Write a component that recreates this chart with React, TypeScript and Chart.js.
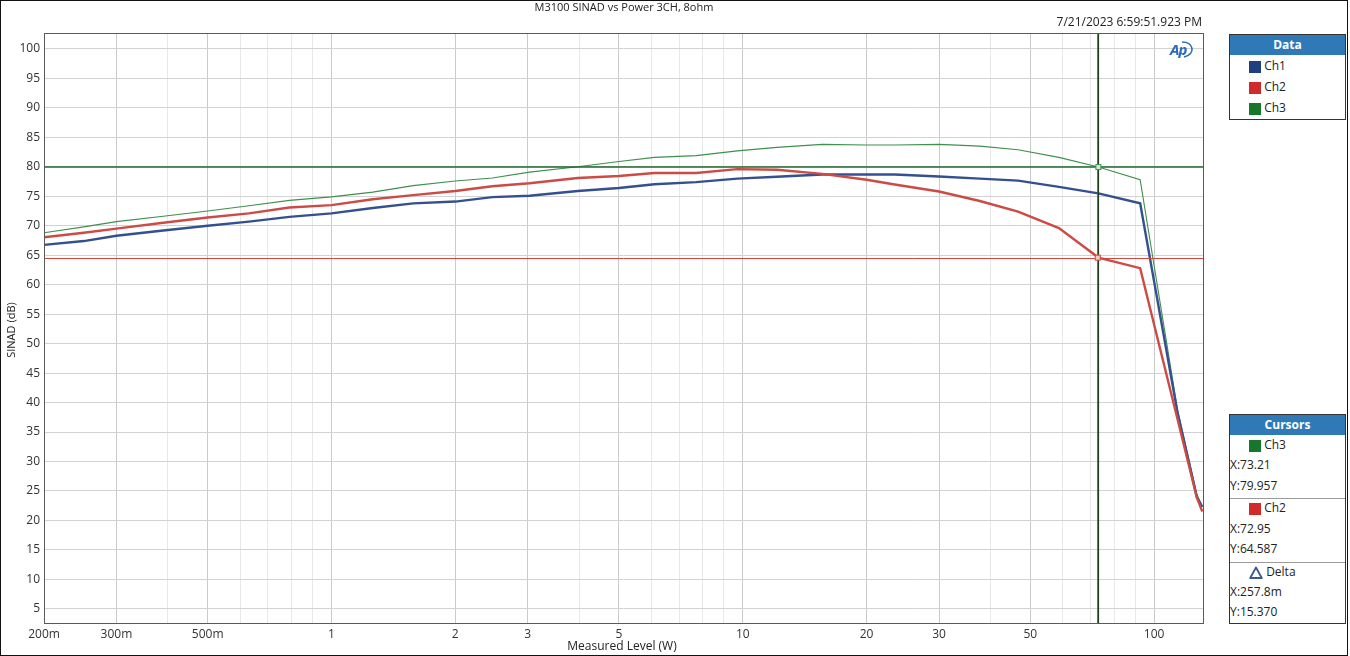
import React, { useEffect, useRef } from "react";
import { Chart, registerables } from "chart.js";

Chart.register(...registerables);

// ---- data ----
const POWER_W = [
  0.2, 0.25, 0.3, 0.39, 0.5, 0.63, 0.79, 1.0, 1.26, 1.58, 2.0, 2.46, 3.03, 3.97, 5.0, 6.1, 7.7, 9.7,
  12.1, 15.6, 20, 23.4, 30, 37.7, 46.7, 58.7, 73.2, 92.5, 114, 127, 131,
];
const CH1_SINAD = [
  66.75, 67.4, 68.3, 69.2, 70.0, 70.7, 71.5, 72.1, 73.0, 73.8, 74.1, 74.85, 75.1, 75.9, 76.4, 77.05, 77.4,
  78.0, 78.3, 78.7, 78.7, 78.7, 78.35, 78.0, 77.65, 76.6, 75.5, 73.8, 38.3, 24.0, 22.3,
];
const CH2_SINAD = [
  68.05, 68.8, 69.5, 70.5, 71.4, 72.1, 73.1, 73.5, 74.5, 75.2, 75.9, 76.7, 77.2, 78.1, 78.45, 78.95, 78.95,
  79.6, 79.5, 78.8, 77.8, 77.0, 75.8, 74.2, 72.4, 69.6, 64.6, 62.8, 37.2, 23.9, 21.5,
];
const CH3_SINAD = [
  68.8, 69.8, 70.7, 71.6, 72.5, 73.4, 74.3, 74.9, 75.7, 76.8, 77.6, 78.1, 79.1, 80.0, 80.9, 81.6, 81.9,
  82.7, 83.3, 83.8, 83.7, 83.7, 83.8, 83.5, 82.9, 81.6, 79.96, 77.8, 38.8, 24.5, 22.3,
];

const Y_TICKS = [5, 10, 15, 20, 25, 30, 35, 40, 45, 50, 55, 60, 65, 70, 75, 80, 85, 90, 95, 100];
const X_MAJOR = [0.2, 0.3, 0.5, 1, 2, 3, 5, 10, 20, 30, 50, 100];
const X_MAJOR_LABELS = ["200m", "300m", "500m", "1", "2", "3", "5", "10", "20", "30", "50", "100"];
const X_MINOR = [0.4, 0.6, 0.7, 0.8, 0.9, 4, 6, 7, 8, 9, 40, 60, 70, 80, 90];

const CURSOR_CH3 = { x: 73.21, y: 79.957 };
const CURSOR_CH2 = { x: 72.95, y: 64.587 };
const CURSOR_DELTA = { x: "257.8m", y: "15.370" };

const X_MIN = 0.2;
const X_MAX = 131.5;
const Y_MIN = 2.6;
const Y_MAX = 102.7;

const COL_CH1 = "#34508f";
const COL_CH2 = "#cc4b45";
const COL_CH3 = "#3f8f4f";
const SQ_CH1 = "#1f3f7e";
const SQ_CH2 = "#d02b2b";
const SQ_CH3 = "#17782b";

const FONT = "'Segoe UI', 'Open Sans', 'Noto Sans', sans-serif";

const isMinor = (v: number) => X_MINOR.some((m) => Math.abs(m - v) < 1e-9);
const majorLabel = (v: number) => {
  const i = X_MAJOR.findIndex((m) => Math.abs(m - v) < 1e-9);
  return i >= 0 ? X_MAJOR_LABELS[i] : "";
};

const overlayPlugin = {
  id: "overlay",
  afterDatasetsDraw(chart: any) {
    const { ctx, chartArea, scales } = chart;
    const xs = scales.x;
    const ys = scales.y;
    ctx.save();
    // horizontal cursor lines
    const yG = ys.getPixelForValue(CURSOR_CH3.y);
    const yR = ys.getPixelForValue(CURSOR_CH2.y);
    ctx.lineWidth = 1;
    ctx.strokeStyle = "#d0453e";
    ctx.beginPath();
    ctx.moveTo(chartArea.left, Math.round(yR) + 0.5);
    ctx.lineTo(chartArea.right, Math.round(yR) + 0.5);
    ctx.stroke();
    ctx.lineWidth = 1.5;
    ctx.strokeStyle = "#1d6a2c";
    ctx.beginPath();
    ctx.moveTo(chartArea.left, yG);
    ctx.lineTo(chartArea.right, yG);
    ctx.stroke();
    // vertical cursor lines
    const xR = xs.getPixelForValue(CURSOR_CH2.x);
    const xG = xs.getPixelForValue(CURSOR_CH3.x);
    ctx.lineWidth = 1;
    ctx.strokeStyle = "#b8443c";
    ctx.beginPath();
    ctx.moveTo(xR, chartArea.top);
    ctx.lineTo(xR, chartArea.bottom);
    ctx.stroke();
    ctx.lineWidth = 1.4;
    ctx.strokeStyle = "#213d1c";
    ctx.beginPath();
    ctx.moveTo(xG, chartArea.top);
    ctx.lineTo(xG, chartArea.bottom);
    ctx.stroke();
    // cursor markers
    ctx.lineWidth = 1;
    ctx.fillStyle = "#cfe8cf";
    ctx.strokeStyle = "#3f8f4f";
    ctx.fillRect(xG - 2.5, yG - 2.5, 5, 5);
    ctx.strokeRect(xG - 2.5, yG - 2.5, 5, 5);
    ctx.fillStyle = "#f1c9c6";
    ctx.strokeStyle = "#cc4b45";
    ctx.fillRect(xR - 2.5, yR - 2.5, 5, 5);
    ctx.strokeRect(xR - 2.5, yR - 2.5, 5, 5);
    // plot frame
    ctx.lineWidth = 1;
    ctx.strokeStyle = "#5a5a5a";
    ctx.strokeRect(
      Math.round(chartArea.left) + 0.5,
      Math.round(chartArea.top) + 0.5,
      Math.round(chartArea.right - chartArea.left),
      Math.round(chartArea.bottom - chartArea.top)
    );
    ctx.restore();
  },
};

function ChartCanvas() {
  const ref = useRef<HTMLCanvasElement | null>(null);
  useEffect(() => {
    if (!ref.current) return;
    Chart.defaults.font.family = FONT;
    const mk = (ys: number[]) => POWER_W.map((x, i) => ({ x, y: ys[i] }));
    const chart = new Chart(ref.current, {
      type: "line",
      data: {
        datasets: [
          {
            label: "Ch2",
            data: mk(CH2_SINAD),
            borderColor: COL_CH2,
            borderWidth: 2.4,
            pointRadius: 0,
            tension: 0,
          },
          {
            label: "Ch1",
            data: mk(CH1_SINAD),
            borderColor: COL_CH1,
            borderWidth: 2.4,
            pointRadius: 0,
            tension: 0,
          },
          {
            label: "Ch3",
            data: mk(CH3_SINAD),
            borderColor: COL_CH3,
            borderWidth: 1.1,
            pointRadius: 0,
            tension: 0,
          },
        ],
      },
      options: {
        animation: false,
        responsive: false,
        devicePixelRatio: 1,
        layout: { padding: { left: 0, top: 33, right: 147, bottom: 0 } },
        plugins: { legend: { display: false }, tooltip: { enabled: false } },
        scales: {
          x: {
            type: "logarithmic",
            min: X_MIN,
            max: X_MAX,
            afterBuildTicks: (s: any) => {
              s.ticks = [...X_MAJOR, ...X_MINOR].sort((a, b) => a - b).map((v) => ({ value: v }));
            },
            afterFit: (s: any) => {
              s.height = 33;
            },
            border: { display: false },
            grid: {
              drawTicks: false,
              lineWidth: 1,
              color: (c: any) => (c.tick && isMinor(c.tick.value) ? "#e8e8e8" : "#cbcbcb"),
            },
            ticks: {
              autoSkip: false,
              maxRotation: 0,
              padding: 4,
              color: "#333",
              font: { size: 12 },
              callback: (v: any) => majorLabel(Number(v)),
            },
          },
          y: {
            type: "linear",
            min: Y_MIN,
            max: Y_MAX,
            afterBuildTicks: (s: any) => {
              s.ticks = Y_TICKS.map((v) => ({ value: v }));
            },
            afterFit: (s: any) => {
              s.width = 44;
            },
            border: { display: false },
            grid: { drawTicks: false, color: "#d2d2d2", lineWidth: 1 },
            ticks: {
              padding: 4,
              color: "#333",
              font: { size: 12 },
              callback: (v: any) => String(v),
            },
          },
        },
      },
      plugins: [overlayPlugin],
    } as any);
    return () => chart.destroy();
  }, []);
  return <canvas ref={ref} width={1350} height={656} style={{ position: "absolute", left: 0, top: 0 }} />;
}

const txt: React.CSSProperties = {
  position: "absolute",
  fontFamily: FONT,
  color: "#222",
  whiteSpace: "nowrap",
};

function Square({ color }: { color: string }) {
  return (
    <span
      style={{ display: "inline-block", width: 12, height: 12, background: color, verticalAlign: "middle" }}
    />
  );
}

export default function App() {
  const rowStyle = (top: number, left: number): React.CSSProperties => ({
    ...txt,
    left,
    top: top - 9,
    height: 18,
    lineHeight: "18px",
    fontSize: 12,
  });
  return (
    <div
      style={{
        position: "fixed",
        left: 0,
        top: 0,
        width: 1350,
        height: 656,
        background: "#fff",
        overflow: "hidden",
      }}
    >
      <ChartCanvas />
      {/* outer frame */}
      <div
        style={{
          position: "absolute",
          left: 0,
          top: 0,
          width: 1346,
          height: 654,
          border: "1px solid #111",
          pointerEvents: "none",
        }}
      />
      {/* title */}
      <div style={{ ...txt, left: 424, width: 400, textAlign: "center", top: 0, lineHeight: "14px", fontSize: 11 }}>
        M3100 SINAD vs Power 3CH, 8ohm
      </div>
      <div style={{ ...txt, right: 148, top: 14, lineHeight: "16px", fontSize: 12 }}>7/21/2023 6:59:51.923 PM</div>
      {/* axis titles */}
      <div
        style={{
          ...txt,
          left: 11 - 60,
          top: 330 - 8,
          width: 120,
          height: 16,
          lineHeight: "16px",
          textAlign: "center",
          fontSize: 11,
          transform: "rotate(-90deg)",
        }}
      >
        SINAD (dB)
      </div>
      <div style={{ ...txt, left: 522, width: 200, textAlign: "center", top: 638, lineHeight: "16px", fontSize: 12 }}>
        Measured Level (W)
      </div>
      {/* AP logo */}
      <div
        style={{
          ...txt,
          left: 1170,
          top: 40,
          fontSize: 15,
          fontWeight: 700,
          fontStyle: "italic",
          color: "#2a6bb8",
          letterSpacing: -1,
          lineHeight: "18px",
        }}
      >
        Ap
      </div>
      <svg style={{ position: "absolute", left: 1168, top: 40 }} width={28} height={20}>
        <path d="M 14 2 C 26 2, 28 14, 16 17" stroke="#2a6bb8" strokeWidth={1.6} fill="none" />
      </svg>
      {/* Data legend */}
      <div
        style={{
          position: "absolute",
          left: 1229,
          top: 34,
          width: 115,
          height: 84,
          border: "1px solid #333",
          background: "#fff",
        }}
      >
        <div
          style={{
            height: 20,
            background: "#2f79b7",
            color: "#fff",
            fontFamily: FONT,
            fontWeight: 700,
            fontSize: 12,
            lineHeight: "20px",
            textAlign: "center",
          }}
        >
          Data
        </div>
      </div>
      <div style={rowStyle(66, 1249)}>
        <Square color={SQ_CH1} /> <span>Ch1</span>
      </div>
      <div style={rowStyle(87, 1249)}>
        <Square color={SQ_CH2} /> <span>Ch2</span>
      </div>
      <div style={rowStyle(108, 1249)}>
        <Square color={SQ_CH3} /> <span>Ch3</span>
      </div>
      {/* Cursors legend */}
      <div
        style={{
          position: "absolute",
          left: 1229,
          top: 414,
          width: 115,
          height: 208,
          border: "1px solid #333",
          background: "#fff",
        }}
      >
        <div
          style={{
            height: 20,
            background: "#2f79b7",
            color: "#fff",
            fontFamily: FONT,
            fontWeight: 700,
            fontSize: 12,
            lineHeight: "20px",
            textAlign: "center",
          }}
        >
          Cursors
        </div>
        <div style={{ position: "absolute", left: 0, right: 0, top: 83, height: 1, background: "#9a9a9a" }} />
        <div style={{ position: "absolute", left: 0, right: 0, top: 147, height: 1, background: "#9a9a9a" }} />
      </div>
      <div style={rowStyle(445, 1249)}>
        <Square color={SQ_CH3} /> <span>Ch3</span>
      </div>
      <div style={rowStyle(465, 1230)}>X:{CURSOR_CH3.x.toFixed(2)}</div>
      <div style={rowStyle(486, 1230)}>Y:{CURSOR_CH3.y.toFixed(3)}</div>
      <div style={rowStyle(508, 1249)}>
        <Square color={SQ_CH2} /> <span>Ch2</span>
      </div>
      <div style={rowStyle(529, 1230)}>X:{CURSOR_CH2.x.toFixed(2)}</div>
      <div style={rowStyle(549, 1230)}>Y:{CURSOR_CH2.y.toFixed(3)}</div>
      <div style={rowStyle(572, 1249)}>
        <svg width={14} height={13} style={{ verticalAlign: "middle" }}>
          <path d="M 7 1.5 L 12.8 12 L 1.2 12 Z" stroke="#3b5a8c" strokeWidth={1.8} fill="none" strokeLinejoin="round" />
        </svg>{" "}
        <span>Delta</span>
      </div>
      <div style={rowStyle(592, 1230)}>X:{CURSOR_DELTA.x}</div>
      <div style={rowStyle(612, 1230)}>Y:{CURSOR_DELTA.y}</div>
    </div>
  );
}
